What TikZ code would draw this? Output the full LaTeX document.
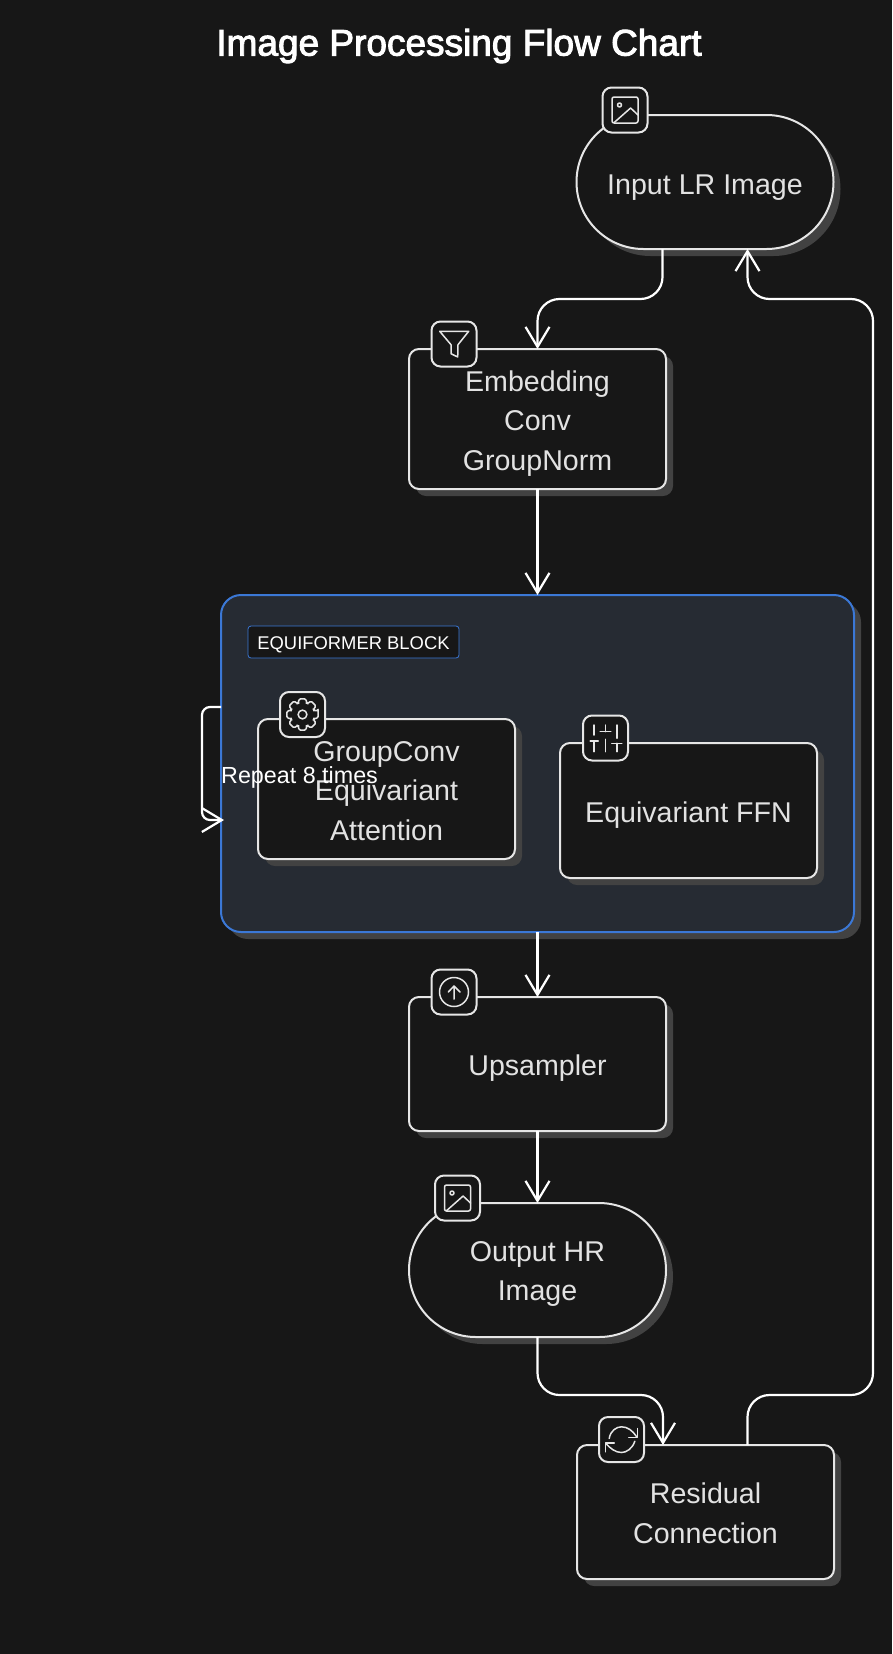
\documentclass[tikz,border=0pt]{standalone}
\usepackage{fontspec}
\setmainfont{Liberation Sans}
\newfontfamily\titlefont[FakeBold=2.6]{Liberation Sans}
\usetikzlibrary{arrows.meta}
\usetikzlibrary{shadows}

\definecolor{bgdark}{HTML}{171717}
\definecolor{shadowgray}{HTML}{424242}
\definecolor{blockfill}{HTML}{262B33}
\definecolor{blockblue}{HTML}{3B78D6}
\definecolor{textgray}{HTML}{E2E2E2}
\definecolor{linegray}{HTML}{E6E6E6}

% pushes the first line of a node down
\newcommand{\dropto}[1]{\rule{0pt}{#1pt}}

\tikzset{
  boxnode/.style={draw=linegray, line width=2pt, fill=bgdark, text=textgray,
    rounded corners=10pt, minimum width=257pt, minimum height=134pt,
    inner sep=0pt, outer sep=0pt, align=center,
    font=\fontsize{28.6}{39.5}\selectfont,
    drop shadow={shadow xshift=7pt, shadow yshift=-7pt, opacity=1, fill=shadowgray}},
  pillnode/.style={boxnode, rounded corners=67pt},
  iconbox/.style={draw=linegray, line width=2pt, fill=bgdark, rounded corners=9pt,
    minimum size=45pt, inner sep=0pt, outer sep=0pt},
  glyph/.style={draw=linegray, line width=1.5pt, line join=round, line cap=round},
  flowline/.style={draw=white, line width=2.2pt, rounded corners=22pt,
    -{Straight Barb[length=20pt,width=24pt]}},
  imageglyph/.pic={
    \draw[glyph, rounded corners=2pt] (-13,-13) rectangle (13,13);
    \draw[glyph] (-5.5,-5) circle (2pt);
    \draw[glyph] (-11,12.7) -- (5.6,-2) -- (13,5);
  },
  filterglyph/.pic={
    \draw[glyph] (-14.3,-12.7) -- (14.7,-12.7) -- (4,0.7) -- (3.7,13) -- (-3,9.7) -- (-3,0.7) -- cycle;
  },
  gearglyph/.pic={
    \draw[glyph, rounded corners=1.5pt] (-13:16) \foreach \a in {0,45,...,315}
      { -- (\a-13:16) -- (\a+13:16) -- (\a+20:12) -- (\a+25:12) } -- cycle;
    \draw[glyph] (0,0) circle (4.4pt);
  },
  sliderglyph/.pic={
    \draw[glyph] (-11.3,-13) -- (-11.3,-3) (-15.3,3) -- (-7.3,3) (-11.3,3) -- (-11.3,13.7);
    \draw[glyph] (0,-13) -- (0,-6.3) (-5.3,-6.3) -- (5.3,-6.3) (0,1.3) -- (0,13.7);
    \draw[glyph] (11.3,-13) -- (11.3,0.3) (6.3,5.3) -- (16.3,5.3) (11.3,5.3) -- (11.3,13.7);
  },
  upglyph/.pic={
    \draw[glyph] (0,0) circle (14.5pt);
    \draw[glyph] (0,7) -- (0,-6) (-5.7,0) -- (0,-6) -- (6,0);
  },
  refreshglyph/.pic={
    \draw[glyph] (-12.3,-1) .. controls (-11,-9) and (-5,-12.7) .. (0,-12.7)
      .. controls (6,-12.7) and (11,-9) .. (15,-3);
    \draw[glyph] (16,-11) -- (16,-2) -- (7.3,-2);
    \draw[glyph] (13.3,1.7) .. controls (11,9) and (5,13) .. (0,13)
      .. controls (-6,13) and (-11,9) .. (-15.7,4);
    \draw[glyph] (-16,12.3) -- (-16,3.3) -- (-7.3,3.3);
  }
}

\begin{document}
\begin{tikzpicture}[x=1pt,y=-1pt]
\path[use as bounding box, fill=bgdark] (0,0) rectangle (892,1654);

\node[text=white, font=\titlefont\fontsize{37}{44}\selectfont] (charttitle) at (459,46) {Image Processing Flow Chart};

% outer block and its contents
\node[boxnode, draw=blockblue, fill=blockfill, rounded corners=20pt, minimum width=633pt, minimum height=337pt] (eqblock) at (537.5,763.5) {};
\node[draw=blockblue, line width=.8pt, fill=bgdark, text=white, rounded corners=3pt, minimum width=211pt, minimum height=32pt, inner sep=0pt, font=\fontsize{18.4}{22}\selectfont] (eqlabel) at (353.5,642) {\dropto{17.5}EQUIFORMER BLOCK};
\node[boxnode, minimum height=140pt] (groupconv) at (386.5,789) {\dropto{24}GroupConv\\Equivariant\\Attention};
\node[boxnode, minimum height=135pt] (eqffn) at (688.5,810.5) {\dropto{29}Equivariant FFN};

\node[pillnode] (inputlr) at (705,182) {\dropto{31}Input LR Image};
\node[boxnode, minimum height=140pt] (embedconv) at (537.5,419) {\dropto{29}Embedding\\Conv\\GroupNorm};
\node[boxnode] (upsampler) at (537.5,1064) {\dropto{29}Upsampler};
\node[pillnode] (outputhr) at (537.5,1270) {\dropto{28}Output HR\\Image};
\node[boxnode] (residual) at (705.5,1512) {\dropto{23}Residual\\Connection};

% icons
\node[iconbox] (inputicon) at (625,110) {};
\node[iconbox] (embedicon) at (454,344) {};
\node[iconbox] (gearicon) at (302.5,714.5) {};
\node[iconbox] (ffnicon) at (605.5,738) {};
\node[iconbox] (upicon) at (454,992) {};
\node[iconbox] (outputicon) at (457.5,1198) {};
\node[iconbox] (residualicon) at (621.5,1439.5) {};
\pic at (inputicon) {imageglyph};
\pic at (embedicon) {filterglyph};
\pic at (gearicon) {gearglyph};
\pic at (ffnicon) {sliderglyph};
\pic at (upicon) {upglyph};
\pic at (outputicon) {imageglyph};
\pic at (residualicon) {refreshglyph};

% connectors
\coordinate (railtop) at (873,299);
\coordinate (railbot) at (873,1395);
\coordinate (looptop) at (202,707);
\coordinate (loopbot) at (202,820);

\draw[flowline] ([xshift=-42.5pt]inputlr.south) -- ([xshift=-42.5pt]inputlr.south |- railtop) -| (embedconv.north);
\draw[flowline] (embedconv.south) -- (eqblock.north);
\draw[flowline] (eqblock.south) -- (upsampler.north);
\draw[flowline] (upsampler.south) -- (outputhr.north);
\draw[flowline] (outputhr.south) -- (outputhr.south |- railbot) -| ([xshift=-42.5pt]residual.north);
\draw[flowline] ([xshift=42pt]residual.north) |- (railbot) -- (railtop) -| ([xshift=42.5pt]inputlr.south);
\draw[flowline, rounded corners=8pt] (eqblock.west |- looptop) -- (looptop) -- (loopbot) -- ([xshift=3pt]eqblock.west |- loopbot);

\node[text=white, anchor=west, inner sep=0pt, font=\fontsize{23.3}{28}\selectfont] (repeatlabel) at (221,777) {Repeat 8 times};
\end{tikzpicture}
\end{document}
